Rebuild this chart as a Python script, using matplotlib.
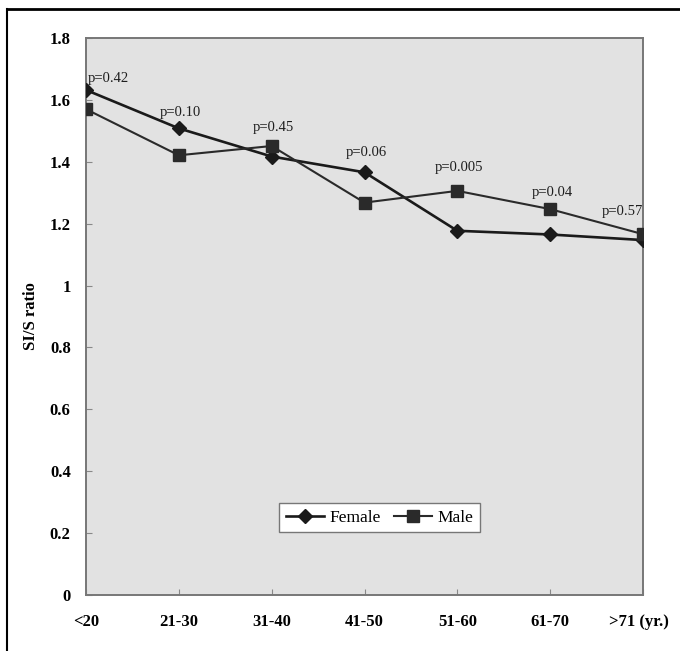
import matplotlib
matplotlib.use("Agg")
import matplotlib.pyplot as plt
from matplotlib.lines import Line2D
import matplotlib.transforms as mtransforms

categories = ["<20", "21-30", "31-40", "41-50", "51-60", "61-70", ">71 (yr.)"]
female = [1.632, 1.508, 1.417, 1.366, 1.177, 1.165, 1.147]
male = [1.570, 1.421, 1.451, 1.268, 1.306, 1.247, 1.166]
p_labels = ["p=0.42", "p=0.10", "p=0.45", "p=0.06", "p=0.005", "p=0.04", "p=0.57"]
p_label_y = [1.67, 1.56, 1.51, 1.43, 1.38, 1.30, 1.24]
y_ticks = [0, 0.2, 0.4, 0.6, 0.8, 1, 1.2, 1.4, 1.6, 1.8]
y_ticklabels = ["0", "0.2", "0.4", "0.6", "0.8", "1", "1.2", "1.4", "1.6", "1.8"]

serif = ["Liberation Serif", "DejaVu Serif"]
plt.rcParams["font.family"] = serif

fig = plt.figure(figsize=(6.8, 6.51), dpi=100)
fig.patch.set_facecolor("white")
ax = fig.add_axes([86/680, 1-595/651, (643-86)/680, (595-38)/651])
ax.set_facecolor("#e2e2e2")

x = list(range(len(categories)))
ax.plot(x, female, color="#1a1a1a", lw=1.9, marker="D", ms=7.5, mfc="#1a1a1a", mec="#1a1a1a", label="Female", zorder=3)
ax.plot(x, male, color="#2a2a2a", lw=1.5, marker="s", ms=8, mfc="#2a2a2a", mec="#2a2a2a", label="Male", zorder=3)

for i, (t, yy) in enumerate(zip(p_labels, p_label_y)):
    ax.text(i + 0.02 if i < len(categories) - 1 else i - 0.22, yy, t, fontsize=10.5, color="#1e1e1e",
            ha="left" if i == 0 else "center", va="center", family=serif)

ax.set_xlim(0, len(categories) - 1)
ax.set_ylim(0, 1.8)
ax.set_yticks(y_ticks)
ax.set_yticklabels(y_ticklabels, fontsize=12, fontweight="bold", family=serif)
ax.set_xticks(x)
ax.set_xticklabels(categories, fontsize=12, fontweight="bold", family=serif)
ax.tick_params(axis="y", direction="in", length=4, width=0.8, color="#888888", pad=11)
ax.tick_params(axis="x", direction="in", length=4, width=0.8, color="#888888", pad=14)
for lbl in ax.get_xticklabels()[-1:]:
    lbl.set_transform(lbl.get_transform() + mtransforms.ScaledTranslation(-0.04, 0, fig.dpi_scale_trans))
for s in ax.spines.values():
    s.set_color("#777777")
    s.set_linewidth(1.4)

ax.set_ylabel("SI/S ratio", fontsize=12, fontweight="bold", family=serif, labelpad=12)
ax.yaxis.set_label_coords(-0.084, 0.50)

leg = ax.legend(loc="center", bbox_to_anchor=(0.527, 0.139), ncol=2, frameon=True, fancybox=False,
                edgecolor="#777777", facecolor="white", framealpha=1, fontsize=12.5,
                handlelength=2.2, handletextpad=0.3, columnspacing=0.8, borderpad=0.35)
leg.get_frame().set_linewidth(1.0)

fig.add_artist(Line2D([7/680, 1.0], [1-9/651, 1-9/651], transform=fig.transFigure, color="black", lw=2))
fig.add_artist(Line2D([7/680, 7/680], [1-9/651, 0.0], transform=fig.transFigure, color="black", lw=1.5))

fig.savefig("out.png", dpi=100)
